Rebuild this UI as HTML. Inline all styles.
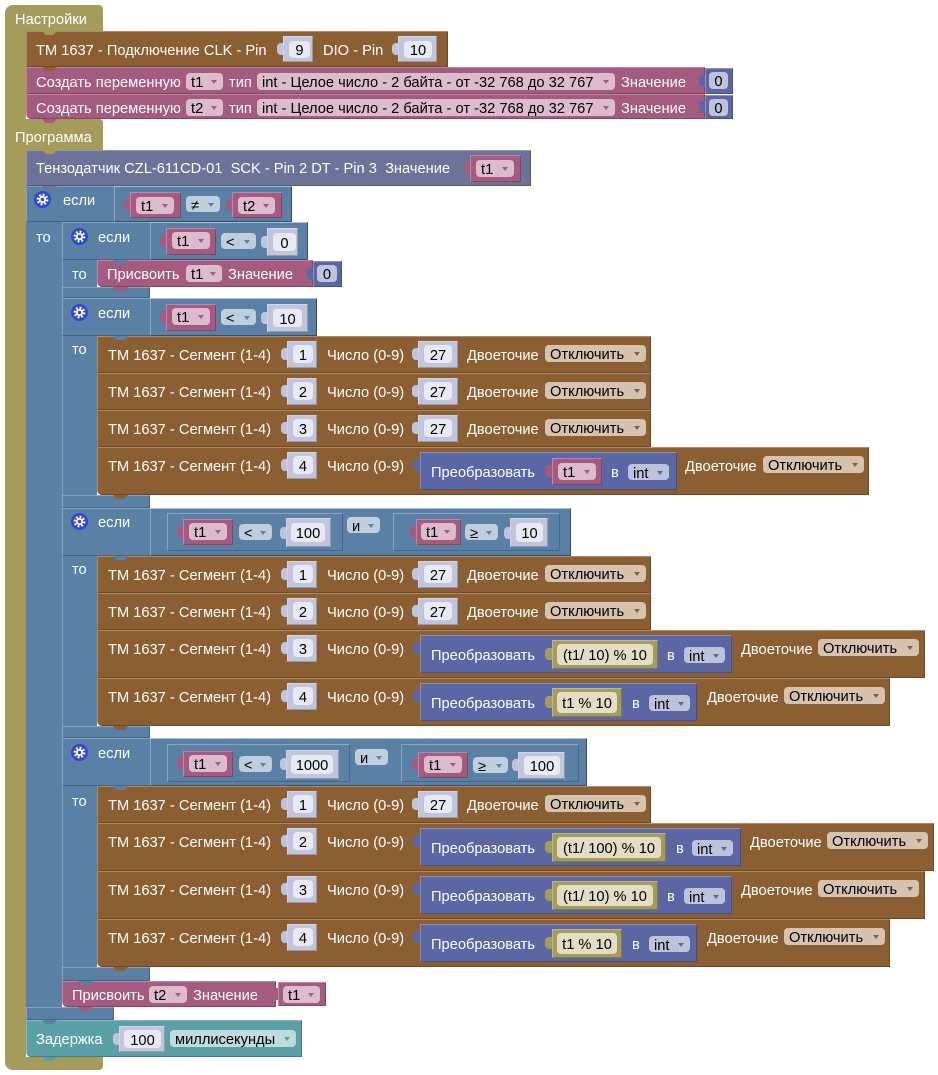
<!DOCTYPE html>
<html><head><meta charset="utf-8"><style>
*{box-sizing:border-box}
body{margin:0;width:938px;height:1075px;background:#fff;position:relative;overflow:hidden;font-family:"Liberation Sans","DejaVu Sans",sans-serif;}
.a,.t,.dd,.nf,.tab{position:absolute}
.k{box-shadow:inset 1px 1px 0 rgba(255,255,255,.28),inset -1px -1px 0 rgba(0,0,0,.22)}
.t{color:#fff;font-size:14.67px;line-height:16px;white-space:pre;padding-top:2px}
.dd{height:17px;border-radius:4px;color:#000;font-size:14.67px;line-height:17px;padding-left:5px;padding-top:2px;white-space:pre}
.dd i{position:absolute;right:6px;top:7px;width:0;height:0;border-left:3.5px solid transparent;border-right:3.5px solid transparent;border-top:4px solid #888}
.nf{background:#e8e9f2;border-radius:4px;color:#000;font-size:14.67px;text-align:center;white-space:pre;padding-top:2px}
.tab{width:15px;height:4px;clip-path:polygon(0 0,100% 0,75% 100%,25% 100%)}
.st{position:absolute;width:7px;height:12px;border-radius:4px 0 0 4px}
.bx{position:absolute;border-top:1px solid rgba(255,255,255,.3);border-left:1px solid rgba(255,255,255,.3);border-bottom:1px solid rgba(0,0,0,.2);border-right:1px solid rgba(0,0,0,.2)}
.ol{background:#a59c5b}.br{background:#8c5f33}.pk{background:#a55b80}.db{background:#5b67a5}.bl{background:#5b80a5}.sl{background:#6c7298}.tl{background:#5ba0a6}.nm{background:#c0c4dd}
.dp{background:#dcbccc}.dp i{border-top-color:#a55b80}
.dr{background:#d6c3af}.dr i{border-top-color:#8c5f33}
.dbl{background:#bfcedc}.dbl i{border-top-color:#5b80a5}
.ddb{background:#bec3dc}.ddb i{border-top-color:#5b67a5}
.dt{background:#bedbdd}.dt i{border-top-color:#5ba0a6}
.of{background:#e2ddc4}
</style></head><body>

<!-- OLIVE -->
<div class="a ol" style="left:5px;top:5px;width:21px;height:1065px;border-radius:8px 0 0 8px"></div>
<div class="a ol" style="left:5px;top:5px;width:98px;height:26px;border-radius:8px 4px 0 0"></div>
<div class="a ol" style="left:5px;top:119px;width:98px;height:31px;border-radius:0 4px 0 0"></div>
<div class="a ol" style="left:5px;top:1057px;width:98px;height:13px;border-radius:0 0 4px 8px"></div>
<div class="t" style="left:15px;top:10px">Настройки</div>
<div class="t" style="left:15px;top:128px">Программа</div>

<!-- TM connect -->
<div class="a br k" style="left:26px;top:31px;width:422px;height:36px"></div>
<div class="t" style="left:36px;top:41px">TM 1637 - Подключение CLK - Pin</div>
<div class="st nm" style="left:277px;top:43px"></div>
<div class="a nm k" style="left:283px;top:36px;width:30px;height:26px"></div>
<div class="nf" style="left:289px;top:41px;width:21px;height:17px;line-height:17px">9</div>
<div class="t" style="left:323px;top:41px">DIO - Pin</div>
<div class="st nm" style="left:392px;top:43px"></div>
<div class="a nm k" style="left:398px;top:36px;width:39px;height:26px"></div>
<div class="nf" style="left:404px;top:41px;width:28px;height:17px;line-height:17px">10</div>

<!-- Pink rows -->
<div class="a pk k" style="left:26px;top:67px;width:679px;height:27px"></div>
<div class="t" style="left:36px;top:73px">Создать переменную</div>
<div class="dd dp" style="left:186px;top:73px;width:37px">t1<i></i></div>
<div class="t" style="left:229px;top:73px">тип</div>
<div class="dd dp" style="left:257px;top:73px;width:358px">int - Целое число - 2 байта - от -32 768 до 32 767<i></i></div>
<div class="t" style="left:621px;top:73px">Значение</div>
<div class="st db" style="left:699px;top:75px"></div>
<div class="a db k" style="left:705px;top:68px;width:28px;height:26px"></div>
<div class="nf" style="left:709px;top:72px;width:19px;height:17px;line-height:17px;background:#bec3dc">0</div>

<div class="a pk k" style="left:26px;top:94px;width:679px;height:25px;border-radius:0 0 0 5px"></div>
<div class="t" style="left:36px;top:99px">Создать переменную</div>
<div class="dd dp" style="left:186px;top:99px;width:37px">t2<i></i></div>
<div class="t" style="left:229px;top:99px">тип</div>
<div class="dd dp" style="left:257px;top:99px;width:358px">int - Целое число - 2 байта - от -32 768 до 32 767<i></i></div>
<div class="t" style="left:621px;top:99px">Значение</div>
<div class="st db" style="left:699px;top:101px"></div>
<div class="a db k" style="left:705px;top:95px;width:28px;height:24px"></div>
<div class="nf" style="left:709px;top:99px;width:19px;height:17px;line-height:17px;background:#bec3dc">0</div>

<div class="tab ol" style="left:42px;top:31px"></div>
<div class="tab br" style="left:42px;top:67px"></div>
<div class="tab pk" style="left:42px;top:119px"></div>

<!-- Slate -->
<div class="a sl k" style="left:26px;top:150px;width:505px;height:36px"></div>
<div class="t" style="left:36px;top:159px">Тензодатчик CZL-611CD-01  SCK - Pin 2 DT - Pin 3  Значение</div>
<div class="st pk" style="left:464px;top:162px"></div>
<div class="a pk k" style="left:470px;top:155px;width:51px;height:27px"></div>
<div class="dd dp" style="left:476px;top:160px;width:38px">t1<i></i></div>
<div class="tab ol" style="left:42px;top:150px"></div>

<!-- Outer if -->
<div class="a bl" style="left:26px;top:186px;width:36px;height:834px"></div>
<div class="a bl k" style="left:26px;top:186px;width:266px;height:36px"></div>
<div class="a bl k" style="left:26px;top:1007px;width:88px;height:13px"></div>
<div class="tab sl" style="left:42px;top:186px"></div>
<div class="bx" style="left:114px;top:186px;width:178px;height:36px"></div>
<svg class="a" style="left:34px;top:191px" width="17" height="17" viewBox="0 0 17 17"><circle cx="8.5" cy="8.5" r="8.5" fill="#3346d1"/><circle cx="8.5" cy="8.5" r="4.6" fill="none" stroke="#fff" stroke-width="2.6" stroke-dasharray="1.8 1.8"/><circle cx="8.5" cy="8.5" r="3.6" fill="#fff"/><circle cx="8.5" cy="8.5" r="1.8" fill="#3346d1"/></svg>
<div class="t" style="left:63px;top:191px">если</div>
<div class="t" style="left:36px;top:228px">то</div>
<div class="st pk" style="left:124px;top:199px"></div>
<div class="a pk k" style="left:130px;top:192px;width:51px;height:26px"></div>
<div class="dd dp" style="left:136px;top:197px;width:38px">t1<i></i></div>
<div class="dd dbl" style="left:186px;top:196px;width:34px;height:16px;line-height:16px">≠<i></i></div>
<div class="st pk" style="left:226px;top:199px"></div>
<div class="a pk k" style="left:232px;top:192px;width:50px;height:26px"></div>
<div class="dd dp" style="left:238px;top:197px;width:37px">t2<i></i></div>

<!-- If 1 -->
<div class="a bl" style="left:62px;top:222px;width:35px;height:76px;border-left:1px solid rgba(255,255,255,.25)"></div>
<div class="a bl k" style="left:62px;top:222px;width:246px;height:38px"></div>
<div class="a bl k" style="left:62px;top:287px;width:88px;height:11px"></div>
<div class="bx" style="left:150px;top:222px;width:158px;height:38px"></div>
<svg class="a" style="left:71px;top:228px" width="17" height="17" viewBox="0 0 17 17"><circle cx="8.5" cy="8.5" r="8.5" fill="#3346d1"/><circle cx="8.5" cy="8.5" r="4.6" fill="none" stroke="#fff" stroke-width="2.6" stroke-dasharray="1.8 1.8"/><circle cx="8.5" cy="8.5" r="3.6" fill="#fff"/><circle cx="8.5" cy="8.5" r="1.8" fill="#3346d1"/></svg>
<div class="t" style="left:98px;top:228px">если</div>
<div class="t" style="left:72px;top:265px">то</div>
<div class="st pk" style="left:160px;top:235px"></div>
<div class="a pk k" style="left:166px;top:228px;width:50px;height:27px"></div>
<div class="dd dp" style="left:172px;top:232px;width:38px">t1<i></i></div>
<div class="dd dbl" style="left:221px;top:233px;width:35px;height:16px;line-height:16px">&lt;<i></i></div>
<div class="st nm" style="left:261px;top:236px"></div>
<div class="a nm k" style="left:267px;top:228px;width:31px;height:28px"></div>
<div class="nf" style="left:273px;top:233px;width:23px;height:18px;line-height:18px">0</div>

<div class="a pk k" style="left:97px;top:260px;width:216px;height:27px;border-radius:0 0 0 5px"></div>
<div class="t" style="left:107px;top:265px">Присвоить</div>
<div class="dd dp" style="left:186px;top:265px;width:36px">t1<i></i></div>
<div class="t" style="left:228px;top:265px">Значение</div>
<div class="st db" style="left:307px;top:268px"></div>
<div class="a db k" style="left:313px;top:261px;width:29px;height:26px"></div>
<div class="nf" style="left:317px;top:265px;width:20px;height:17px;line-height:17px;background:#bec3dc">0</div>
<div class="tab bl" style="left:113px;top:260px"></div>
<div class="tab pk" style="left:113px;top:287px"></div>

<!-- If 2 -->
<div class="a bl" style="left:62px;top:298px;width:35px;height:210px;border-left:1px solid rgba(255,255,255,.25)"></div>
<div class="a bl k" style="left:62px;top:298px;width:255px;height:38px"></div>
<div class="a bl k" style="left:62px;top:495px;width:88px;height:13px"></div>
<div class="bx" style="left:150px;top:298px;width:167px;height:38px"></div>
<svg class="a" style="left:71px;top:304px" width="17" height="17" viewBox="0 0 17 17"><circle cx="8.5" cy="8.5" r="8.5" fill="#3346d1"/><circle cx="8.5" cy="8.5" r="4.6" fill="none" stroke="#fff" stroke-width="2.6" stroke-dasharray="1.8 1.8"/><circle cx="8.5" cy="8.5" r="3.6" fill="#fff"/><circle cx="8.5" cy="8.5" r="1.8" fill="#3346d1"/></svg>
<div class="t" style="left:98px;top:304px">если</div>
<div class="t" style="left:72px;top:340px">то</div>
<div class="st pk" style="left:160px;top:311px"></div>
<div class="a pk k" style="left:166px;top:304px;width:50px;height:27px"></div>
<div class="dd dp" style="left:172px;top:308px;width:38px">t1<i></i></div>
<div class="dd dbl" style="left:221px;top:309px;width:35px;height:16px;line-height:16px">&lt;<i></i></div>
<div class="st nm" style="left:261px;top:312px"></div>
<div class="a nm k" style="left:267px;top:304px;width:41px;height:28px"></div>
<div class="nf" style="left:273px;top:309px;width:29px;height:18px;line-height:18px">10</div>

<!-- Block2 rows -->
<div class="a br k" style="left:97px;top:336px;width:554px;height:37px"></div>
<div class="t" style="left:108px;top:346px">TM 1637 - Сегмент (1-4)</div>
<div class="st nm" style="left:281px;top:348px"></div>
<div class="a nm k" style="left:287px;top:341px;width:30px;height:27px"></div>
<div class="nf" style="left:293px;top:345px;width:20px;height:18px;line-height:18px">1</div>
<div class="t" style="left:327px;top:346px">Число (0-9)</div>
<div class="st nm" style="left:412px;top:348px"></div>
<div class="a nm k" style="left:418px;top:341px;width:40px;height:27px"></div>
<div class="nf" style="left:424px;top:345px;width:28px;height:18px;line-height:18px">27</div>
<div class="t" style="left:467px;top:346px">Двоеточие</div>
<div class="dd dr" style="left:545px;top:345px;width:101px">Отключить<i></i></div>
<div class="tab bl" style="left:113px;top:336px"></div>

<div class="a br k" style="left:97px;top:373px;width:554px;height:37px"></div>
<div class="t" style="left:108px;top:383px">TM 1637 - Сегмент (1-4)</div>
<div class="st nm" style="left:281px;top:385px"></div>
<div class="a nm k" style="left:287px;top:378px;width:30px;height:27px"></div>
<div class="nf" style="left:293px;top:382px;width:20px;height:18px;line-height:18px">2</div>
<div class="t" style="left:327px;top:383px">Число (0-9)</div>
<div class="st nm" style="left:412px;top:385px"></div>
<div class="a nm k" style="left:418px;top:378px;width:40px;height:27px"></div>
<div class="nf" style="left:424px;top:382px;width:28px;height:18px;line-height:18px">27</div>
<div class="t" style="left:467px;top:383px">Двоеточие</div>
<div class="dd dr" style="left:545px;top:382px;width:101px">Отключить<i></i></div>

<div class="a br k" style="left:97px;top:410px;width:554px;height:37px"></div>
<div class="t" style="left:108px;top:420px">TM 1637 - Сегмент (1-4)</div>
<div class="st nm" style="left:281px;top:422px"></div>
<div class="a nm k" style="left:287px;top:415px;width:30px;height:27px"></div>
<div class="nf" style="left:293px;top:419px;width:20px;height:18px;line-height:18px">3</div>
<div class="t" style="left:327px;top:420px">Число (0-9)</div>
<div class="st nm" style="left:412px;top:422px"></div>
<div class="a nm k" style="left:418px;top:415px;width:40px;height:27px"></div>
<div class="nf" style="left:424px;top:419px;width:28px;height:18px;line-height:18px">27</div>
<div class="t" style="left:467px;top:420px">Двоеточие</div>
<div class="dd dr" style="left:545px;top:419px;width:101px">Отключить<i></i></div>

<div class="a br k" style="left:97px;top:447px;width:772px;height:48px;border-radius:0 0 0 5px"></div>
<div class="t" style="left:108px;top:457px">TM 1637 - Сегмент (1-4)</div>
<div class="st nm" style="left:281px;top:459px"></div>
<div class="a nm k" style="left:287px;top:452px;width:30px;height:27px"></div>
<div class="nf" style="left:293px;top:456px;width:20px;height:18px;line-height:18px">4</div>
<div class="t" style="left:327px;top:457px">Число (0-9)</div>
<div class="st db" style="left:413px;top:459px"></div>
<div class="a db k" style="left:420px;top:452px;width:257px;height:38px"></div>
<div class="t" style="left:431px;top:463px">Преобразовать</div>
<div class="st pk" style="left:545px;top:465px"></div>
<div class="a pk k" style="left:552px;top:458px;width:50px;height:27px"></div>
<div class="dd dp" style="left:558px;top:463px;width:38px">t1<i></i></div>
<div class="t" style="left:611px;top:463px">в</div>
<div class="dd ddb" style="left:628px;top:464px;width:41px;height:16px;line-height:16px">int<i></i></div>
<div class="t" style="left:685px;top:457px">Двоеточие</div>
<div class="dd dr" style="left:763px;top:456px;width:101px">Отключить<i></i></div>
<div class="tab br" style="left:113px;top:495px"></div>

<!-- If 3 -->
<div class="a bl" style="left:62px;top:508px;width:35px;height:230px;border-left:1px solid rgba(255,255,255,.25)"></div>
<div class="a bl k" style="left:62px;top:508px;width:509px;height:48px"></div>
<div class="a bl k" style="left:62px;top:726px;width:88px;height:12px"></div>
<div class="bx" style="left:150px;top:508px;width:421px;height:48px"></div>
<svg class="a" style="left:71px;top:513px" width="17" height="17" viewBox="0 0 17 17"><circle cx="8.5" cy="8.5" r="8.5" fill="#3346d1"/><circle cx="8.5" cy="8.5" r="4.6" fill="none" stroke="#fff" stroke-width="2.6" stroke-dasharray="1.8 1.8"/><circle cx="8.5" cy="8.5" r="3.6" fill="#fff"/><circle cx="8.5" cy="8.5" r="1.8" fill="#3346d1"/></svg>
<div class="t" style="left:98px;top:513px">если</div>
<div class="t" style="left:72px;top:560px">то</div>
<div class="bx" style="left:167px;top:513px;width:176px;height:38px"></div>
<div class="st pk" style="left:177px;top:526px"></div>
<div class="a pk k" style="left:183px;top:519px;width:50px;height:26px"></div>
<div class="dd dp" style="left:189px;top:523px;width:38px">t1<i></i></div>
<div class="dd dbl" style="left:239px;top:524px;width:33px;height:16px;line-height:16px">&lt;<i></i></div>
<div class="st nm" style="left:280px;top:527px"></div>
<div class="a nm k" style="left:286px;top:518px;width:45px;height:29px"></div>
<div class="nf" style="left:291px;top:523px;width:34px;height:19px;line-height:19px">100</div>
<div class="dd dbl" style="left:347px;top:517px;width:33px;height:16px;line-height:16px">и<i></i></div>
<div class="bx" style="left:393px;top:513px;width:167px;height:38px"></div>
<div class="st pk" style="left:410px;top:526px"></div>
<div class="a pk k" style="left:416px;top:519px;width:45px;height:26px"></div>
<div class="dd dp" style="left:421px;top:523px;width:35px">t1<i></i></div>
<div class="dd dbl" style="left:465px;top:524px;width:33px;height:16px;line-height:16px">≥<i></i></div>
<div class="st nm" style="left:504px;top:527px"></div>
<div class="a nm k" style="left:510px;top:518px;width:38px;height:29px"></div>
<div class="nf" style="left:516px;top:523px;width:27px;height:19px;line-height:19px">10</div>

<!-- Block3 rows -->
<div class="a br k" style="left:97px;top:556px;width:554px;height:37px"></div>
<div class="t" style="left:108px;top:566px">TM 1637 - Сегмент (1-4)</div>
<div class="st nm" style="left:281px;top:568px"></div>
<div class="a nm k" style="left:287px;top:561px;width:30px;height:27px"></div>
<div class="nf" style="left:293px;top:565px;width:20px;height:18px;line-height:18px">1</div>
<div class="t" style="left:327px;top:566px">Число (0-9)</div>
<div class="st nm" style="left:412px;top:568px"></div>
<div class="a nm k" style="left:418px;top:561px;width:40px;height:27px"></div>
<div class="nf" style="left:424px;top:565px;width:28px;height:18px;line-height:18px">27</div>
<div class="t" style="left:467px;top:566px">Двоеточие</div>
<div class="dd dr" style="left:545px;top:565px;width:101px">Отключить<i></i></div>
<div class="tab bl" style="left:113px;top:556px"></div>

<div class="a br k" style="left:97px;top:593px;width:554px;height:37px"></div>
<div class="t" style="left:108px;top:603px">TM 1637 - Сегмент (1-4)</div>
<div class="st nm" style="left:281px;top:605px"></div>
<div class="a nm k" style="left:287px;top:598px;width:30px;height:27px"></div>
<div class="nf" style="left:293px;top:602px;width:20px;height:18px;line-height:18px">2</div>
<div class="t" style="left:327px;top:603px">Число (0-9)</div>
<div class="st nm" style="left:412px;top:605px"></div>
<div class="a nm k" style="left:418px;top:598px;width:40px;height:27px"></div>
<div class="nf" style="left:424px;top:602px;width:28px;height:18px;line-height:18px">27</div>
<div class="t" style="left:467px;top:603px">Двоеточие</div>
<div class="dd dr" style="left:545px;top:602px;width:101px">Отключить<i></i></div>

<div class="a br k" style="left:97px;top:630px;width:828px;height:48px"></div>
<div class="t" style="left:108px;top:640px">TM 1637 - Сегмент (1-4)</div>
<div class="st nm" style="left:281px;top:642px"></div>
<div class="a nm k" style="left:287px;top:635px;width:30px;height:27px"></div>
<div class="nf" style="left:293px;top:639px;width:20px;height:18px;line-height:18px">3</div>
<div class="t" style="left:327px;top:640px">Число (0-9)</div>
<div class="st db" style="left:413px;top:642px"></div>
<div class="a db k" style="left:420px;top:635px;width:312px;height:38px"></div>
<div class="t" style="left:431px;top:646px">Преобразовать</div>
<div class="st ol" style="left:545px;top:648px"></div>
<div class="a ol k" style="left:552px;top:640px;width:106px;height:29px"></div>
<div class="nf of" style="left:557px;top:644px;width:96px;height:21px;line-height:21px">(t1/ 10) % 10</div>
<div class="t" style="left:667px;top:646px">в</div>
<div class="dd ddb" style="left:684px;top:647px;width:41px;height:16px;line-height:16px">int<i></i></div>
<div class="t" style="left:741px;top:640px">Двоеточие</div>
<div class="dd dr" style="left:818px;top:639px;width:101px">Отключить<i></i></div>

<div class="a br k" style="left:97px;top:678px;width:793px;height:48px;border-radius:0 0 0 5px"></div>
<div class="t" style="left:108px;top:688px">TM 1637 - Сегмент (1-4)</div>
<div class="st nm" style="left:281px;top:690px"></div>
<div class="a nm k" style="left:287px;top:683px;width:30px;height:27px"></div>
<div class="nf" style="left:293px;top:687px;width:20px;height:18px;line-height:18px">4</div>
<div class="t" style="left:327px;top:688px">Число (0-9)</div>
<div class="st db" style="left:413px;top:690px"></div>
<div class="a db k" style="left:420px;top:683px;width:277px;height:38px"></div>
<div class="t" style="left:431px;top:694px">Преобразовать</div>
<div class="st ol" style="left:545px;top:696px"></div>
<div class="a ol k" style="left:552px;top:688px;width:70px;height:29px"></div>
<div class="nf of" style="left:557px;top:692px;width:60px;height:21px;line-height:21px">t1 % 10</div>
<div class="t" style="left:632px;top:694px">в</div>
<div class="dd ddb" style="left:649px;top:695px;width:41px;height:16px;line-height:16px">int<i></i></div>
<div class="t" style="left:707px;top:688px">Двоеточие</div>
<div class="dd dr" style="left:784px;top:687px;width:101px">Отключить<i></i></div>
<div class="tab br" style="left:113px;top:726px"></div>

<!-- If 4 -->
<div class="a bl" style="left:62px;top:738px;width:35px;height:243px;border-left:1px solid rgba(255,255,255,.25)"></div>
<div class="a bl k" style="left:62px;top:738px;width:525px;height:48px"></div>
<div class="a bl k" style="left:62px;top:967px;width:88px;height:14px"></div>
<div class="bx" style="left:150px;top:738px;width:437px;height:48px"></div>
<svg class="a" style="left:71px;top:744px" width="17" height="17" viewBox="0 0 17 17"><circle cx="8.5" cy="8.5" r="8.5" fill="#3346d1"/><circle cx="8.5" cy="8.5" r="4.6" fill="none" stroke="#fff" stroke-width="2.6" stroke-dasharray="1.8 1.8"/><circle cx="8.5" cy="8.5" r="3.6" fill="#fff"/><circle cx="8.5" cy="8.5" r="1.8" fill="#3346d1"/></svg>
<div class="t" style="left:98px;top:744px">если</div>
<div class="t" style="left:72px;top:792px">то</div>
<div class="bx" style="left:167px;top:744px;width:183px;height:38px"></div>
<div class="st pk" style="left:177px;top:757px"></div>
<div class="a pk k" style="left:183px;top:751px;width:50px;height:26px"></div>
<div class="dd dp" style="left:189px;top:755px;width:38px">t1<i></i></div>
<div class="dd dbl" style="left:239px;top:756px;width:33px;height:16px;line-height:16px">&lt;<i></i></div>
<div class="st nm" style="left:280px;top:758px"></div>
<div class="a nm k" style="left:286px;top:750px;width:53px;height:29px"></div>
<div class="nf" style="left:291px;top:755px;width:42px;height:19px;line-height:19px">1000</div>
<div class="dd dbl" style="left:355px;top:749px;width:33px;height:16px;line-height:16px">и<i></i></div>
<div class="bx" style="left:401px;top:744px;width:178px;height:38px"></div>
<div class="st pk" style="left:412px;top:758px"></div>
<div class="a pk k" style="left:418px;top:752px;width:50px;height:26px"></div>
<div class="dd dp" style="left:424px;top:756px;width:38px">t1<i></i></div>
<div class="dd dbl" style="left:473px;top:757px;width:35px;height:16px;line-height:16px">≥<i></i></div>
<div class="st nm" style="left:512px;top:759px"></div>
<div class="a nm k" style="left:518px;top:752px;width:47px;height:27px"></div>
<div class="nf" style="left:524px;top:756px;width:36px;height:19px;line-height:19px">100</div>

<!-- Block4 rows -->
<div class="a br k" style="left:97px;top:786px;width:554px;height:37px"></div>
<div class="t" style="left:108px;top:796px">TM 1637 - Сегмент (1-4)</div>
<div class="st nm" style="left:281px;top:798px"></div>
<div class="a nm k" style="left:287px;top:791px;width:30px;height:27px"></div>
<div class="nf" style="left:293px;top:795px;width:20px;height:18px;line-height:18px">1</div>
<div class="t" style="left:327px;top:796px">Число (0-9)</div>
<div class="st nm" style="left:412px;top:798px"></div>
<div class="a nm k" style="left:418px;top:791px;width:40px;height:27px"></div>
<div class="nf" style="left:424px;top:795px;width:28px;height:18px;line-height:18px">27</div>
<div class="t" style="left:467px;top:796px">Двоеточие</div>
<div class="dd dr" style="left:545px;top:795px;width:101px">Отключить<i></i></div>
<div class="tab bl" style="left:113px;top:786px"></div>

<div class="a br k" style="left:97px;top:823px;width:837px;height:48px"></div>
<div class="t" style="left:108px;top:833px">TM 1637 - Сегмент (1-4)</div>
<div class="st nm" style="left:281px;top:835px"></div>
<div class="a nm k" style="left:287px;top:828px;width:30px;height:27px"></div>
<div class="nf" style="left:293px;top:832px;width:20px;height:18px;line-height:18px">2</div>
<div class="t" style="left:327px;top:833px">Число (0-9)</div>
<div class="st db" style="left:413px;top:835px"></div>
<div class="a db k" style="left:420px;top:828px;width:321px;height:38px"></div>
<div class="t" style="left:431px;top:839px">Преобразовать</div>
<div class="st ol" style="left:545px;top:841px"></div>
<div class="a ol k" style="left:552px;top:833px;width:114px;height:29px"></div>
<div class="nf of" style="left:557px;top:837px;width:104px;height:21px;line-height:21px">(t1/ 100) % 10</div>
<div class="t" style="left:676px;top:839px">в</div>
<div class="dd ddb" style="left:692px;top:840px;width:41px;height:16px;line-height:16px">int<i></i></div>
<div class="t" style="left:750px;top:833px">Двоеточие</div>
<div class="dd dr" style="left:827px;top:832px;width:101px">Отключить<i></i></div>

<div class="a br k" style="left:97px;top:871px;width:828px;height:48px"></div>
<div class="t" style="left:108px;top:881px">TM 1637 - Сегмент (1-4)</div>
<div class="st nm" style="left:281px;top:883px"></div>
<div class="a nm k" style="left:287px;top:876px;width:30px;height:27px"></div>
<div class="nf" style="left:293px;top:880px;width:20px;height:18px;line-height:18px">3</div>
<div class="t" style="left:327px;top:881px">Число (0-9)</div>
<div class="st db" style="left:413px;top:883px"></div>
<div class="a db k" style="left:420px;top:876px;width:312px;height:38px"></div>
<div class="t" style="left:431px;top:887px">Преобразовать</div>
<div class="st ol" style="left:545px;top:889px"></div>
<div class="a ol k" style="left:552px;top:881px;width:106px;height:29px"></div>
<div class="nf of" style="left:557px;top:885px;width:96px;height:21px;line-height:21px">(t1/ 10) % 10</div>
<div class="t" style="left:667px;top:887px">в</div>
<div class="dd ddb" style="left:684px;top:888px;width:41px;height:16px;line-height:16px">int<i></i></div>
<div class="t" style="left:741px;top:881px">Двоеточие</div>
<div class="dd dr" style="left:818px;top:880px;width:101px">Отключить<i></i></div>

<div class="a br k" style="left:97px;top:919px;width:793px;height:48px;border-radius:0 0 0 5px"></div>
<div class="t" style="left:108px;top:929px">TM 1637 - Сегмент (1-4)</div>
<div class="st nm" style="left:281px;top:931px"></div>
<div class="a nm k" style="left:287px;top:924px;width:30px;height:27px"></div>
<div class="nf" style="left:293px;top:928px;width:20px;height:18px;line-height:18px">4</div>
<div class="t" style="left:327px;top:929px">Число (0-9)</div>
<div class="st db" style="left:413px;top:931px"></div>
<div class="a db k" style="left:420px;top:924px;width:277px;height:38px"></div>
<div class="t" style="left:431px;top:935px">Преобразовать</div>
<div class="st ol" style="left:545px;top:937px"></div>
<div class="a ol k" style="left:552px;top:929px;width:70px;height:29px"></div>
<div class="nf of" style="left:557px;top:933px;width:60px;height:21px;line-height:21px">t1 % 10</div>
<div class="t" style="left:632px;top:935px">в</div>
<div class="dd ddb" style="left:649px;top:936px;width:41px;height:16px;line-height:16px">int<i></i></div>
<div class="t" style="left:707px;top:929px">Двоеточие</div>
<div class="dd dr" style="left:784px;top:928px;width:101px">Отключить<i></i></div>
<div class="tab br" style="left:113px;top:967px"></div>

<!-- Присвоить t2 -->
<div class="a pk k" style="left:62px;top:981px;width:214px;height:26px;border-radius:0 0 0 5px"></div>
<div class="tab bl" style="left:78px;top:981px"></div>
<div class="t" style="left:72px;top:986px">Присвоить</div>
<div class="dd dp" style="left:149px;top:986px;width:38px">t2<i></i></div>
<div class="t" style="left:193px;top:986px">Значение</div>
<div class="st pk" style="left:272px;top:988px"></div>
<div class="a pk k" style="left:278px;top:982px;width:48px;height:24px"></div>
<div class="dd dp" style="left:283px;top:986px;width:37px">t1<i></i></div>
<div class="tab pk" style="left:78px;top:1007px"></div>

<!-- Задержка -->
<div class="a tl k" style="left:26px;top:1020px;width:276px;height:37px;border-radius:0 0 0 5px"></div>
<div class="tab bl" style="left:42px;top:1020px"></div>
<div class="t" style="left:36px;top:1030px">Задержка</div>
<div class="st nm" style="left:113px;top:1033px"></div>
<div class="a nm k" style="left:119px;top:1026px;width:46px;height:26px"></div>
<div class="nf" style="left:124px;top:1030px;width:37px;height:18px;line-height:18px">100</div>
<div class="dd dt" style="left:170px;top:1030px;width:126px">миллисекунды<i></i></div>
<div class="tab tl" style="left:42px;top:1057px"></div>

</body></html>
